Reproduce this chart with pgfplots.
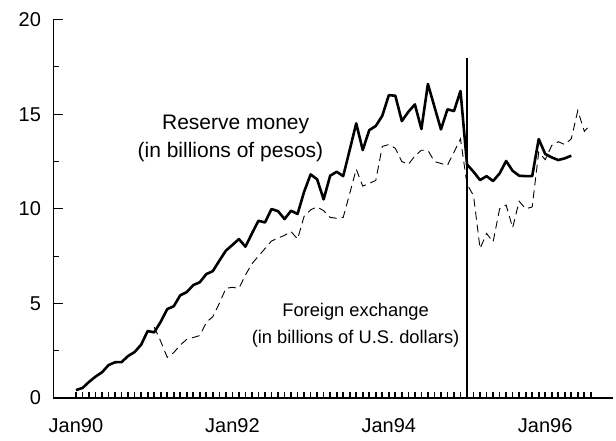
\documentclass[border=0pt]{standalone}
\usepackage{pgfplots}
\pgfplotsset{compat=1.18}
\usepackage{fontspec}
\setmainfont{Liberation Sans}
\begin{document}
\begin{tikzpicture}
\path[use as bounding box] (-53.5pt,-43pt) rectangle (562.5pt,398pt);
\begin{axis}[
  at={(0pt,0pt)}, anchor=south west,
  scale only axis, width=559.5pt, height=378.3pt,
  xmin=-3.45, xmax=82.4, ymin=0, ymax=20,
  axis x line=bottom, axis y line=left,
  axis line style={-, line width=1.8pt},
  xtick align=inside, ytick align=inside,
  xtick={0,24,48,72},
  xticklabels={Jan90,Jan92,Jan94,Jan96},
  minor xtick={0,...,79},
  ytick={0,5,10,15,20}, minor ytick={2.5,7.5,12.5,17.5},
  major tick length=9pt, minor tick length=5.5pt,
  major x tick style={draw=none},
  minor x tick style={draw=black, line width=1.7pt},
  ytick style={draw=black, line width=1pt},
  tick label style={font=\fontsize{20}{24}\selectfont},
  /pgf/number format/assume math mode=true,
  xticklabel style={yshift=-17pt},
  yticklabel style={xshift=-9pt},
  clip=false,
]
\addplot[black, line width=2.6pt, line join=round] coordinates {
(0,0.42) (1,0.53) (2,0.85) (3,1.13) (4,1.36) (5,1.74) (6,1.89) (7,1.90) (8,2.22) (9,2.43)
(10,2.82) (11,3.54) (12,3.47) (13,4.03) (14,4.70) (15,4.85) (16,5.43) (17,5.60) (18,5.97) (19,6.12)
(20,6.55) (21,6.71) (22,7.26) (23,7.79) (24,8.09) (25,8.40) (26,8.00) (27,8.70) (28,9.37) (29,9.28)
(30,9.99) (31,9.88) (32,9.46) (33,9.90) (34,9.73) (35,10.90) (36,11.82) (37,11.56) (38,10.50) (39,11.75)
(40,11.96) (41,11.73) (42,13.11) (43,14.52) (44,13.11) (45,14.16) (46,14.38) (47,14.92) (48,16.01) (49,15.98)
(50,14.64) (51,15.13) (52,15.52) (53,14.22) (54,16.60) (55,15.40) (56,14.20) (57,15.26) (58,15.17) (59,16.23)
(60,12.35) (61,11.96) (62,11.52) (63,11.73) (64,11.47) (65,11.87) (66,12.53) (67,12.01) (68,11.75) (69,11.73)
(70,11.73) (71,13.69) (72,12.90) (73,12.72) (74,12.58) (75,12.67) (76,12.81)
};
\addplot[black, line width=0.9pt, dash pattern=on 8pt off 5pt] coordinates {
(12,3.75) (13,3.00) (14,2.15) (15,2.40) (16,2.80) (17,3.10) (18,3.20) (19,3.30)
(20,4.00) (21,4.30) (22,5.00) (23,5.80) (24,5.85) (25,5.80) (26,6.50) (27,7.10) (28,7.50) (29,7.90)
(30,8.30) (31,8.45) (32,8.60) (33,8.80) (34,8.40) (35,9.60) (36,9.95) (37,10.10) (38,9.90) (39,9.55)
(40,9.50) (41,9.55) (42,10.80) (43,12.10) (44,11.20) (45,11.35) (46,11.50) (47,13.30) (48,13.40) (49,13.20)
(50,12.50) (51,12.35) (52,12.80) (53,13.10) (54,13.10) (55,12.50) (56,12.40) (57,12.30) (58,13.00) (59,13.70)
(60,11.30) (61,10.70) (62,7.90) (63,8.70) (64,8.25) (65,10.00) (66,10.20) (67,9.00) (68,10.40) (69,10.00)
(70,10.10) (71,13.00) (72,12.60) (73,13.35) (74,13.55) (75,13.40) (76,13.70) (77,15.20) (78,14.10) (79,14.45)
};
\addplot[black, line width=1.2pt] coordinates {(60,0) (60,18)};
\node[font=\fontsize{21}{25}\selectfont] at (axis cs:24.5,14.48) {Reserve money};
\node[font=\fontsize{21}{25}\selectfont] at (axis cs:23.7,13.0) {(in billions of pesos)};
\node[font=\fontsize{18.3}{22}\selectfont] at (axis cs:42.9,4.55) {Foreign exchange};
\node[font=\fontsize{18.3}{22}\selectfont] at (axis cs:42.9,3.12) {(in billions of U.S. dollars)};
\end{axis}
\end{tikzpicture}
\end{document}
